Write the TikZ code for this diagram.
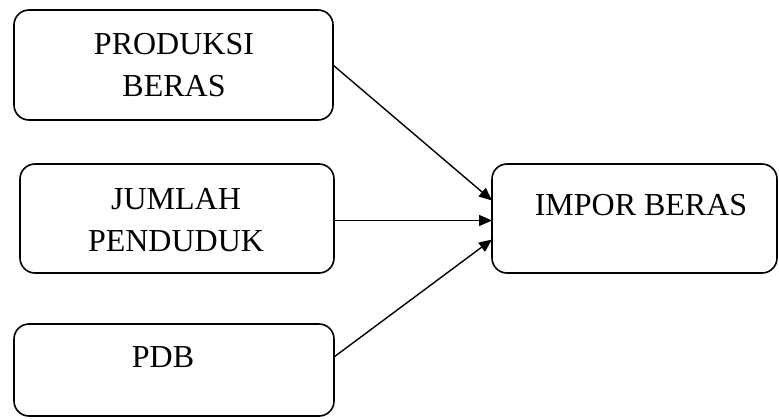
\documentclass[tikz,border=0pt]{standalone}
\usepackage{fontspec}
\setmainfont{Liberation Serif}
\usetikzlibrary{arrows.meta}
\begin{document}
\begin{tikzpicture}[x=1pt,y=-1pt,
  box/.style={draw,line width=1.6pt,rounded corners=15pt,inner sep=0pt,outer sep=0pt},
  txt/.style={inner sep=0pt,align=center,font=\fontsize{32pt}{42pt}\selectfont},
  conn/.style={line width=1.4pt,-{Triangle[length=13pt,width=11pt]}}]
\useasboundingbox (0,0) rectangle (779,418);
\node[box,minimum width=319pt,minimum height=110pt] (b1) at (173.5,65) {};
\node[box,minimum width=314pt,minimum height=109pt] (b2) at (177,218.5) {};
\node[box,minimum width=320pt,minimum height=92pt] (b3) at (174,370) {};
\node[box,minimum width=285pt,minimum height=109pt] (d) at (634.5,218.5) {};
\node[txt] (t1) at (174,65) {PRODUKSI\\BERAS};
\node[txt] (t2) at (176,220) {JUMLAH\\PENDUDUK};
\node[txt] (t3) at (163,357.5) {PDB};
\node[txt] (t4) at (641,205) {IMPOR BERAS};
\draw[conn] (b1.east) -- ([yshift=18pt]d.west);
\draw[conn] ([yshift=-2pt]b2.east) -- ([yshift=-2pt]d.west);
\draw[conn] ([yshift=13pt]b3.east) -- ([yshift=-21pt]d.west);
\end{tikzpicture}
\end{document}
